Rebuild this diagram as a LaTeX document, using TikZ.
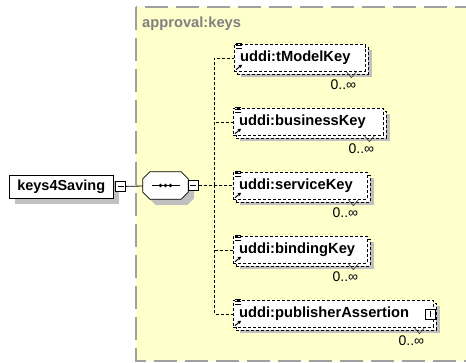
\documentclass[tikz,border=0pt]{standalone}
\usepackage{fontspec}
\setmainfont{Liberation Sans}
\usetikzlibrary{positioning,arrows.meta}
\definecolor{grpfill}{RGB}{255,255,204}
\definecolor{grpline}{RGB}{160,160,160}
\definecolor{grptext}{RGB}{128,128,128}
\definecolor{shade}{RGB}{192,192,192}

\begin{document}
\begin{tikzpicture}[x=1pt, y=-1pt,
    shadowed/.style={preaction={fill=shade, draw=none,
                     transform canvas={shift={(6pt,-6pt)}}}},
    root/.style={draw, fill=white, anchor=west, shadowed, minimum width=104pt,
                 minimum height=23pt, inner sep=0pt,
                 font=\bfseries\fontsize{14.5}{16}\selectfont},
    elem/.style={draw, dash pattern=on 3pt off 2pt, fill=white, anchor=west,
                 text width=#1, align=left, inner xsep=6pt, inner ysep=0pt,
                 minimum height=27pt, font=\bfseries\fontsize{14.7}{16}\selectfont,
                 preaction={fill=shade, draw=none,
                            transform canvas={shift={(7pt,-6pt)}}},
                 preaction={draw, fill=white, dash pattern=on 3pt off 2pt,
                            transform canvas={shift={(3pt,-3pt)}}}},
    seqbox/.style={minimum width=45pt, minimum height=27pt, inner sep=0pt},
    octa/.style={draw, fill=white, line width=0.8pt},
    pmbox/.style={draw, fill=white, minimum size=10pt, inner sep=0pt,
                  path picture={\draw ([xshift=2pt]path picture bounding box.west)
                                 -- ([xshift=-2pt]path picture bounding box.east);}},
    plusbox/.style={pmbox, path picture={\draw ([yshift=-2pt]path picture bounding box.north)
                                 -- ([yshift=2pt]path picture bounding box.south);}},
    mult/.style={inner sep=0pt, font=\fontsize{14}{16}\selectfont},
    line/.style={draw, line width=0.8pt},
    dline/.style={draw, line width=0.8pt, dash pattern=on 3pt off 2pt},
]
    \useasboundingbox (0,0) rectangle (466,363);
    % group box
    \path[fill=grpfill, draw=grpline, line width=1.5pt, dash pattern=on 23pt off 8pt]
        (136,7) rectangle (480,361);
    \node[anchor=west, inner sep=0pt, text=grptext,
          font=\bfseries\fontsize{14.7}{16}\selectfont] (title) at (142,24) {approval:keys};

    \node[root] (keys) at (9,186.5) {keys4Saving};
    \node[pmbox, right=2pt of keys] (kmin) {};

    % sequence compositor
    \node[seqbox] (seq) at (165.5,185.5) {};
    \path[fill=shade, transform canvas={shift={(6pt,-6pt)}}]
        ([shift={(7,0)}]seq.north west) -- ([shift={(-7,0)}]seq.north east)
        -- ([shift={(0,7)}]seq.north east) -- ([shift={(0,-7)}]seq.south east)
        -- ([shift={(-7,0)}]seq.south east) -- ([shift={(7,0)}]seq.south west)
        -- ([shift={(0,-7)}]seq.south west) -- ([shift={(0,7)}]seq.north west) -- cycle;
    \path[octa]
        ([shift={(7,0)}]seq.north west) -- ([shift={(-7,0)}]seq.north east)
        -- ([shift={(0,7)}]seq.north east) -- ([shift={(0,-7)}]seq.south east)
        -- ([shift={(-7,0)}]seq.south east) -- ([shift={(7,0)}]seq.south west)
        -- ([shift={(0,-7)}]seq.south west) -- ([shift={(0,7)}]seq.north west) -- cycle;
    \draw[line width=1pt] ([xshift=-14pt]seq.center) -- ([xshift=14pt]seq.center);
    \foreach \d in {-5,0,5}
        \fill ([xshift=\d pt]seq.center) circle (1.8pt);
    \node[pmbox, right=0pt of seq] (smin) {};
    \coordinate (jn) at (214,185.5);

    \node[elem=119pt] (tm)  at (234,58)  {uddi:tModelKey};
    \node[elem=138pt] (bk)  at (233,122) {uddi:businessKey};
    \node[elem=122pt] (sk)  at (233,186) {uddi:serviceKey};
    \node[elem=122pt] (bdk) at (233,250) {uddi:bindingKey};
    \node[elem=188pt] (pa)  at (233,314) {uddi:publisherAssertion};
    \node[plusbox] (pax) at ([xshift=-3pt]pa.east) {};

    \foreach \n in {tm,bk,sk,bdk,pa} {
        \draw[line width=0.8pt] ([shift={(2,-1)}]\n.north west) -- ++(6,0)
            ([shift={(2,1.5)}]\n.north west) -- ++(6,0)
            ([shift={(2,4)}]\n.north west) -- ++(6,0);
        \draw[line width=1pt, -{Triangle[length=3pt,width=3.5pt]}]
            ([shift={(2,-2)}]\n.south west) -- ++(6,-5);
        \draw[line width=0.7pt, black!70] ([xshift=-19pt]\n.south east)
            -- ++(5,6) -- ++(5,-6);
        \node[mult, below left=8pt and 9pt of \n.south east] (\n m) {0..∞};
    }

    \draw[line] (kmin) -- (seq);
    \draw[dline] (smin) -- (jn);
    \draw[dline] (jn) |- (tm);
    \draw[dline] (jn) |- (bk);
    \draw[dline] (jn) -- (sk);
    \draw[dline] (jn) |- (bdk);
    \draw[dline] (jn) |- (pa);
\end{tikzpicture}
\end{document}
